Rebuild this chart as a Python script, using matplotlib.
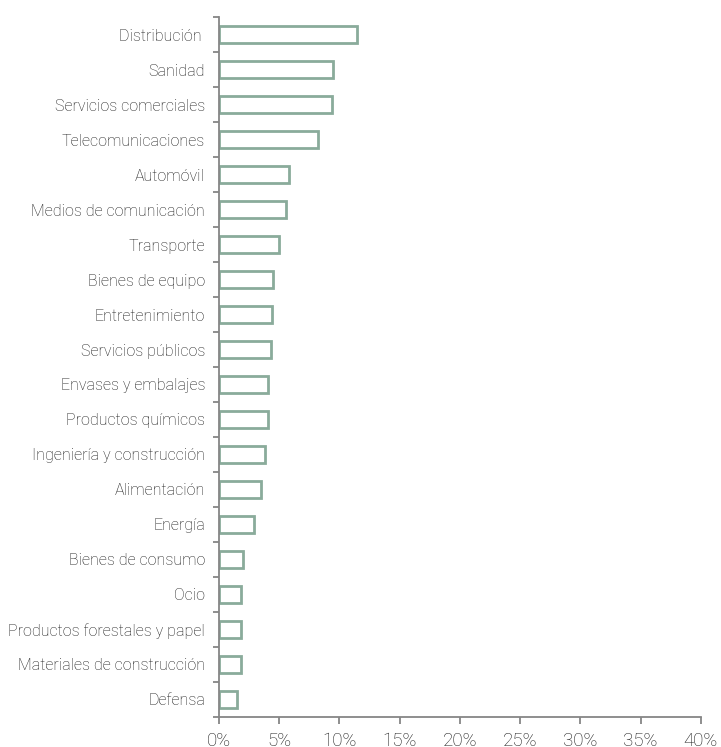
import numpy as np
import matplotlib.pyplot as plt
from matplotlib.ticker import FixedLocator, PercentFormatter

# sector weights (%), top to bottom
sectors = ['Distribución ', 'Sanidad', 'Servicios comerciales', 'Telecomunicaciones',
           'Automóvil', 'Medios de comunicación', 'Transporte', 'Bienes de equipo',
           'Entretenimiento', 'Servicios públicos', 'Envases y embalajes',
           'Productos químicos', 'Ingeniería y construcción', 'Alimentación', 'Energía',
           'Bienes de consumo', 'Ocio', 'Productos forestales y papel',
           'Materiales de construcción', 'Defensa']
weights = [11.5, 9.5, 9.4, 8.2, 5.8, 5.6, 5.0, 4.5, 4.4, 4.3, 4.1, 4.1, 3.8, 3.5,
           2.9, 2.0, 1.8, 1.8, 1.8, 1.5]
x_ticks = [0, 5, 10, 15, 20, 25, 30, 35, 40]

plt.rcParams['font.family'] = ['Roboto', 'DejaVu Sans']
text_color = '#1a1a1a'
axis_color = '#868686'
edge_color = '#8aab9b'

fig = plt.figure(figsize=(7.21, 7.47), dpi=100)
ax = fig.add_axes([0.3037, 0.0402, 0.6683, 0.9370])

y = np.arange(len(sectors))[::-1]
ax.barh(y, weights, height=0.5, color='white', edgecolor=edge_color, linewidth=2)

ax.set_xlim(0, 40)
ax.set_ylim(-0.5, len(sectors) - 0.5)

ax.set_yticks(y)
ax.set_yticklabels(sectors, fontsize=11.5, color=text_color, fontweight='light')
ax.tick_params(axis='y', which='major', length=0, pad=10)
ax.yaxis.set_minor_locator(FixedLocator(np.arange(-0.5, len(sectors), 1.0)))
ax.tick_params(axis='y', which='minor', length=4, width=1.3, color=axis_color, direction='out')

ax.set_xticks(x_ticks)
ax.xaxis.set_major_formatter(PercentFormatter(decimals=0))
ax.tick_params(axis='x', length=5, width=1.3, color=axis_color, labelsize=13.5,
               labelcolor=text_color, pad=6)
for lab in ax.get_xticklabels():
    lab.set_fontweight('light')

for side in ['top', 'right']:
    ax.spines[side].set_visible(False)
for side in ['left', 'bottom']:
    ax.spines[side].set_color(axis_color)
    ax.spines[side].set_linewidth(1.3)

fig.savefig('out.png', dpi=100)
